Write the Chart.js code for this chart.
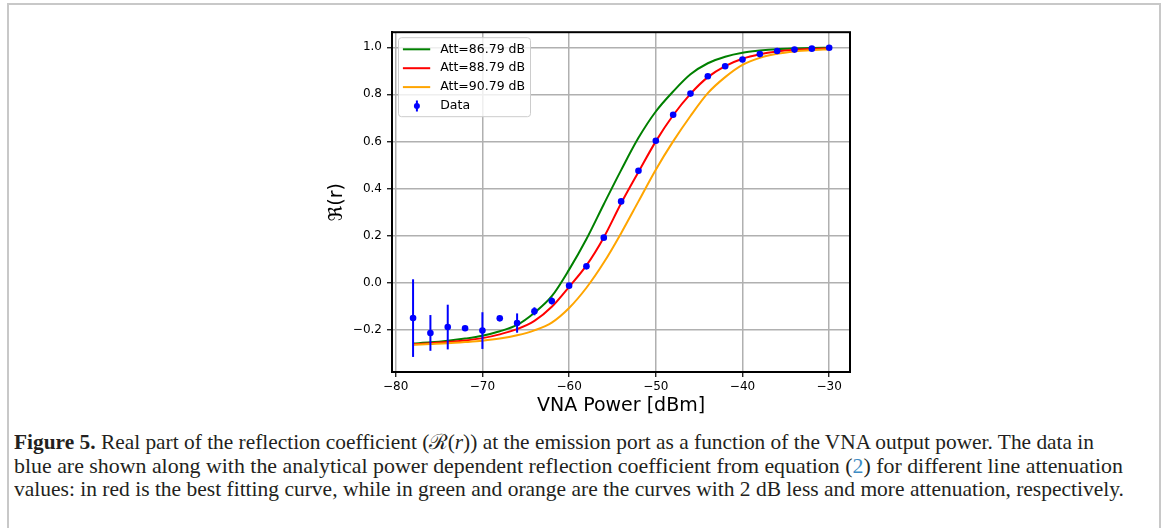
<!DOCTYPE html>
<html>
<head>
<meta charset="utf-8">
<script src="https://cdn.jsdelivr.net/npm/chart.js@4.4.1/dist/chart.umd.min.js"></script>
<style>
  html, body { margin:0; padding:0; background:#fff; }
  body { width:1167px; height:528px; position:relative; overflow:hidden; }
  #frame { position:absolute; left:7px; top:3px; width:1154px; height:560px; border:2px solid #c8c8c8; box-sizing:border-box; }
  #wrap { position:absolute; left:300px; top:20px; width:580px; height:400px; }
  #caption { position:absolute; left:14px; top:431px; font-family:'Liberation Serif', serif; font-size:21px; line-height:23.5px; color:#231f20; }
  #caption div { white-space:nowrap; }
  #caption span.line { display:inline-block; transform-origin:0 50%; }
  .ref { color:#3d8cc4; }
</style>
</head>
<body>
<div id="frame"></div>
<div id="wrap"><canvas id="chart" width="580" height="400"></canvas></div>
<div id="caption">
  <div><span class="line"><b>Figure 5.</b> Real part of the reflection coefficient (ℛ(<i>r</i>)) at the emission port as a function of the VNA output power. The data in</span></div>
  <div><span class="line">blue are shown along with the analytical power dependent reflection coefficient from equation (<span class="ref">2</span>) for different line attenuation</span></div>
  <div><span class="line">values: in red is the best fitting curve, while in green and orange are the curves with 2 dB less and more attenuation, respectively.</span></div>
</div>
<script>
// VNA output power [dBm]
const powers = [-78,-76,-74,-72,-70,-68,-66,-64,-62,-60,-58,-56,-54,-52,-50,-48,-46,-44,-42,-40,-38,-36,-34,-32,-30]

// measured Re(r) and its error
const measured = [-0.151,-0.214,-0.189,-0.194,-0.204,-0.152,-0.172,-0.122,-0.078,-0.013,0.069,0.191,0.345,0.475,0.603,0.713,0.803,0.877,0.919,0.948,0.971,0.984,0.990,0.994,0.998]
const measuredErr = [0.165,0.076,0.095,0.005,0.078,0.004,0.041,0.017,0.015,0.004,0.003,0.003,0.003,0.003,0.003,0.003,0.003,0.003,0.002,0.002,0.002,0.002,0.002,0.002,0.002]

// analytical curves
const att8679 = [-0.259,-0.254,-0.247,-0.238,-0.226,-0.207,-0.180,-0.128,-0.058,0.055,0.185,0.333,0.478,0.615,0.727,0.812,0.885,0.932,0.960,0.977,0.986,0.992,0.995,0.997,0.998]
const att8879 = [-0.262,-0.258,-0.253,-0.246,-0.236,-0.220,-0.198,-0.163,-0.103,-0.018,0.073,0.192,0.337,0.470,0.600,0.711,0.802,0.873,0.920,0.951,0.970,0.982,0.989,0.993,0.996]
const att9079 = [-0.264,-0.261,-0.258,-0.253,-0.247,-0.238,-0.224,-0.203,-0.170,-0.108,-0.022,0.085,0.210,0.345,0.480,0.600,0.708,0.805,0.873,0.925,0.955,0.972,0.982,0.988,0.992]

const legendLabels = ['Att=86.79 dB','Att=88.79 dB','Att=90.79 dB','Data']

const xTicks = [-80,-70,-60,-50,-40,-30]
const xTickLabels = ['\u221280','\u221270','\u221260','\u221250','\u221240','\u221230']
const yTicks = [-0.2,0,0.2,0.4,0.6,0.8,1.0]
const yTickLabels = ['\u22120.2','0.0','0.2','0.4','0.6','0.8','1.0']

// caption line widths in the figure (px)
const captionWidths = [1080, 1109, 1110]

const pts = arr => powers.map((p,i)=>({x:p, y:arr[i]}))
const curve = (label, data, color, order) => ({label, data:pts(data), borderColor:color, backgroundColor:color,
  borderWidth:2, pointRadius:0, cubicInterpolationMode:'monotone', fill:false, order})

const errorBars = {
  id:'errorBars',
  beforeDatasetDraw(chart, args){
    if(args.index !== 3) return
    const {ctx} = chart
    const xs = chart.scales.x, ys = chart.scales.y
    ctx.save()
    ctx.strokeStyle = '#0000ff'
    ctx.lineWidth = 2
    powers.forEach((p,i)=>{
      const e = measuredErr[i]
      if(!e) return
      const px = xs.getPixelForValue(p)
      ctx.beginPath()
      ctx.moveTo(px, ys.getPixelForValue(measured[i]-e))
      ctx.lineTo(px, ys.getPixelForValue(measured[i]+e))
      ctx.stroke()
    })
    ctx.restore()
  }
}

const frameAndLegend = {
  id:'frameAndLegend',
  afterDraw(chart){
    const {ctx, chartArea:a} = chart
    ctx.save()
    ctx.strokeStyle = '#000'
    ctx.lineWidth = 2
    ctx.strokeRect(a.left, a.top, a.right-a.left, a.bottom-a.top)

    // legend box, upper left
    const x0 = a.left+6.5, y0 = a.top+5.5
    ctx.fillStyle = 'rgba(255,255,255,0.8)'
    ctx.strokeStyle = '#cccccc'
    ctx.lineWidth = 1
    ctx.beginPath()
    ctx.roundRect(x0, y0, 132, 79, 3)
    ctx.fill(); ctx.stroke()

    ctx.font = '12.5px "DejaVu Sans"'
    ctx.textBaseline = 'middle'
    ctx.textAlign = 'left'
    chart.data.datasets.forEach((ds,i)=>{
      const cy = y0 + 11.6 + i*18.9
      if(i < 3){
        ctx.strokeStyle = ds.borderColor
        ctx.lineWidth = 2
        ctx.beginPath(); ctx.moveTo(x0+4.4, cy); ctx.lineTo(x0+31.7, cy); ctx.stroke()
      }else{
        ctx.strokeStyle = '#0000ff'; ctx.fillStyle = '#0000ff'; ctx.lineWidth = 2
        ctx.beginPath(); ctx.moveTo(x0+18.4, cy-5.5); ctx.lineTo(x0+18.4, cy+5.5); ctx.stroke()
        ctx.beginPath(); ctx.arc(x0+18.4, cy, 3, 0, Math.PI*2); ctx.fill()
      }
      ctx.fillStyle = '#000'
      ctx.fillText(legendLabels[i], x0+41.7, cy)
    })
    ctx.restore()
  }
}

const tickFont = {family:'DejaVu Sans', size:12}
const titleFont = {family:'DejaVu Sans', size:19}

new Chart(document.getElementById('chart').getContext('2d'), {
  type:'line',
  data:{datasets:[
    curve(legendLabels[0], att8679, '#008000', 3),
    curve(legendLabels[1], att8879, '#ff0000', 2),
    curve(legendLabels[2], att9079, '#ffa500', 1),
    {label:legendLabels[3], data:pts(measured), showLine:false, pointRadius:3.3, pointBorderWidth:0,
      pointBackgroundColor:'#0000ff', borderColor:'#0000ff', order:0}
  ]},
  options:{
    responsive:false,
    animation:false,
    layout:{padding:{left:0, top:11, right:30, bottom:0}},
    plugins:{legend:{display:false}, tooltip:{enabled:false}},
    scales:{
      x:{
        type:'linear', min:-80.43, max:-27.6,
        afterBuildTicks: s => { s.ticks = xTicks.map(v=>({value:v})) },
        afterFit: s => { s.height = 48 },
        ticks:{font:tickFont, color:'#000', padding:3, maxRotation:0, callback:(v,i)=>xTickLabels[i]},
        grid:{color:'#b0b0b0', lineWidth:1.5, tickColor:'#000', tickLength:5, tickWidth:1.2},
        border:{color:'#000', width:2},
        title:{display:true, text:'VNA Power [dBm]', font:titleFont, color:'#000', padding:{top:0, bottom:3}}
      },
      y:{
        type:'linear', min:-0.38, max:1.064,
        afterBuildTicks: s => { s.ticks = yTicks.map(v=>({value:v})) },
        afterFit: s => { s.width = 92 },
        ticks:{font:tickFont, color:'#000', padding:5, callback:(v,i)=>yTickLabels[i]},
        grid:{color:'#b0b0b0', lineWidth:1.5, tickColor:'#000', tickLength:5, tickWidth:1.2},
        border:{color:'#000', width:2},
        title:{display:true, text:'\u211C(r)', font:titleFont, color:'#000', padding:{top:26, bottom:0}}
      }
    }
  },
  plugins:[errorBars, frameAndLegend]
})

// stretch caption lines to the widths they have in the figure
document.querySelectorAll('#caption span.line').forEach((el,i)=>{
  const w = el.getBoundingClientRect().width
  el.style.transform = `scaleX(${captionWidths[i]/w})`
})
</script>
</body>
</html>
